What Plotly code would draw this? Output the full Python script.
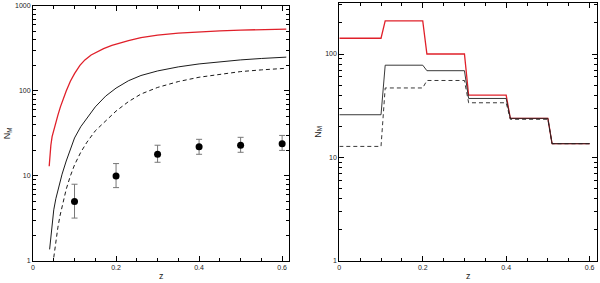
import copy
import plotly.graph_objects as go

# ---- Left panel data ----
red_z = [0.039, 0.041, 0.043, 0.046, 0.05, 0.055, 0.06, 0.066, 0.073, 0.08, 0.09, 0.1, 0.113, 0.125, 0.14, 0.153, 0.17, 0.19, 0.206, 0.23, 0.26, 0.3, 0.35, 0.4, 0.45, 0.5, 0.55, 0.61]
red_n = [13, 18, 23, 29, 35, 43, 52, 65, 82, 100, 130, 160, 200, 232, 265, 288, 315, 343, 363, 392, 425, 455, 480, 498, 510, 520, 528, 535]

sol_z = [0.04, 0.043, 0.046, 0.05, 0.055, 0.06, 0.07, 0.08, 0.09, 0.1, 0.115, 0.13, 0.15, 0.175, 0.2, 0.23, 0.26, 0.3, 0.35, 0.4, 0.45, 0.5, 0.55, 0.61]
sol_n = [1.37, 2.0, 2.9, 4.0, 5.4, 6.9, 10.5, 15, 21, 28, 38, 48, 65, 87, 108, 132, 152, 172, 192, 208, 221, 232, 241, 250]

dash_z = [0.05, 0.053, 0.056, 0.06, 0.065, 0.07, 0.08, 0.09, 0.1, 0.115, 0.13, 0.15, 0.18, 0.2, 0.23, 0.26, 0.3, 0.35, 0.4, 0.45, 0.5, 0.55, 0.61]
dash_n = [1.1, 1.45, 1.9, 2.5, 3.4, 4.4, 7.0, 10, 13.5, 19, 25, 34, 47, 58, 75, 92, 110, 129, 145, 158, 169, 177, 185]

pt_z = [0.1, 0.2, 0.3, 0.4, 0.5, 0.6]
pt_n = [5, 10, 18, 22, 23, 24]
pt_lo = [3.2, 7.3, 14.5, 18, 19, 20]
pt_hi = [8, 14, 23, 27, 28.5, 30]

# ---- Right panel data (bins) ----
bin_lo = [0.0, 0.11, 0.21, 0.31, 0.41, 0.51]
bin_hi = [0.1, 0.2, 0.3, 0.4, 0.5, 0.6]
red_bins = [142, 209, 100, 40, 23.9, 13.6]
sol_bins = [25.9, 78, 69, 37.2, 23.9, 13.6]
dash_bins = [12.8, 47, 55.5, 33.8, 23.4, 13.6]


def steps(lo, hi, vals):
    xs, ys = [], []
    for a, b, v in zip(lo, hi, vals):
        xs += [a, b]
        ys += [v, v]
    return xs, ys


def log_minor(decades):
    return [m * 10 ** d for d in range(decades) for m in range(2, 10)]


fig = go.Figure()

fig.add_trace(go.Scatter(x=red_z, y=red_n, mode="lines", line=dict(color="#e0202a", width=1.3),
                         xaxis="x", yaxis="y", showlegend=False))
fig.add_trace(go.Scatter(x=sol_z, y=sol_n, mode="lines", line=dict(color="black", width=0.9),
                         xaxis="x", yaxis="y", showlegend=False))
fig.add_trace(go.Scatter(x=dash_z, y=dash_n, mode="lines", line=dict(color="black", width=0.9, dash="4px,3px"),
                         xaxis="x", yaxis="y", showlegend=False))
fig.add_trace(go.Scatter(
    x=pt_z, y=pt_n, mode="markers",
    marker=dict(color="black", size=7),
    error_y=dict(type="data", symmetric=False,
                 array=[h - n for h, n in zip(pt_hi, pt_n)],
                 arrayminus=[n - l for l, n in zip(pt_lo, pt_n)],
                 color="#777777", thickness=1, width=3),
    xaxis="x", yaxis="y", showlegend=False))

rx, ry = steps(bin_lo, bin_hi, red_bins)
sx, sy = steps(bin_lo, bin_hi, sol_bins)
dx, dy = steps(bin_lo, bin_hi, dash_bins)
fig.add_trace(go.Scatter(x=rx, y=ry, mode="lines", line=dict(color="#e0202a", width=1.3),
                         xaxis="x2", yaxis="y2", showlegend=False))
fig.add_trace(go.Scatter(x=sx, y=sy, mode="lines", line=dict(color="#222222", width=0.9),
                         xaxis="x2", yaxis="y2", showlegend=False))
fig.add_trace(go.Scatter(x=dx, y=dy, mode="lines", line=dict(color="#222222", width=0.9, dash="4px,3px"),
                         xaxis="x2", yaxis="y2", showlegend=False))

FAM = "Liberation Sans, Arial, sans-serif"
font = dict(family=FAM, size=7, color="#222222")

common_x = dict(range=[0, 0.617], tickmode="linear", tick0=0, dtick=0.2, ticks="inside", ticklen=5,
                tickwidth=1, tickcolor="black",
                showline=True, linecolor="black", linewidth=1, mirror="ticks", showgrid=False, zeroline=False,
                minor=dict(ticks="inside", tickmode="linear", tick0=0, dtick=0.05, ticklen=3, tickwidth=1,
                           tickcolor="black", showgrid=False),
                tickfont=font)
common_y = dict(type="log", tickmode="linear", tick0=0, dtick=1, ticks="inside", ticklen=5, tickwidth=1,
                tickcolor="black", showline=True,
                linecolor="black", linewidth=1, mirror="ticks", showgrid=False, zeroline=False,
                minor=dict(ticks="inside", tickmode="array", tickvals=log_minor(3), ticklen=3, tickwidth=1,
                           tickcolor="black", showgrid=False),
                tickfont=font, title=dict(text="N<sub>M</sub>", font=dict(family=FAM, size=9, color="#222222"), standoff=2))

xl = copy.deepcopy(common_x)
xr = copy.deepcopy(common_x)
yl = copy.deepcopy(common_y)
yr = copy.deepcopy(common_y)
yl.update(domain=[0.0777, 0.979], anchor="x", range=[0, 3])
yr.update(domain=[0.0777, 0.9905], anchor="x2", range=[0, 2.496])
xl.update(domain=[0.055, 0.482], anchor="y")
xr.update(domain=[0.5655, 0.9945], anchor="y2")

fig.update_layout(
    width=600, height=283,
    margin=dict(l=0, r=0, t=0, b=0, autoexpand=False),
    paper_bgcolor="white", plot_bgcolor="white",
    xaxis=xl, yaxis=yl, xaxis2=xr, yaxis2=yr,
    annotations=[
        dict(text="z", x=0.5, xref="x domain", y=0.0, yref="paper", yanchor="bottom", showarrow=False,
             font=dict(family=FAM, size=9, color="#222222")),
        dict(text="z", x=0.5, xref="x2 domain", y=0.0, yref="paper", yanchor="bottom", showarrow=False,
             font=dict(family=FAM, size=9, color="#222222")),
    ],
)

fig.write_html("out.html", config={"displayModeBar": False},
               post_script="document.body.style.margin='0';document.body.style.padding='0';")
